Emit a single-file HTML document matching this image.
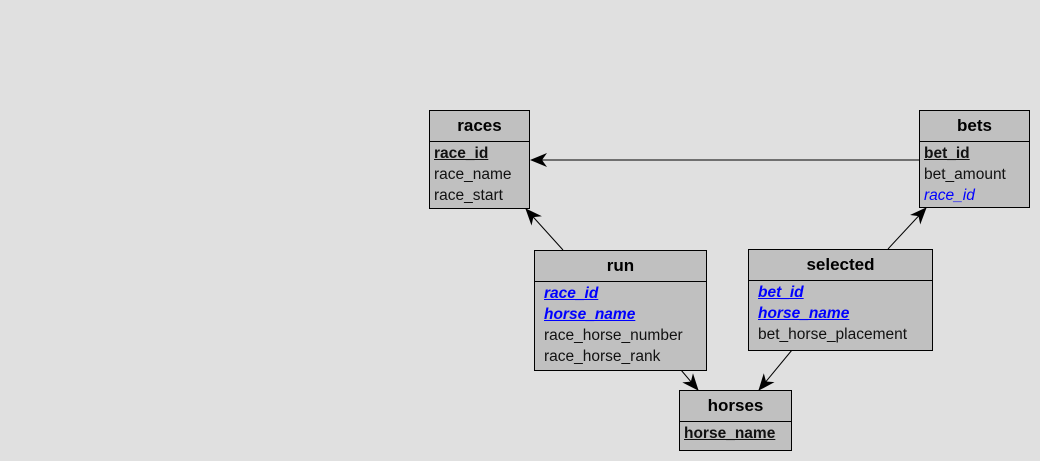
<!DOCTYPE html>
<html><head><style>
body{margin:0;width:1040px;height:461px;background:#e0e0e0;position:relative;overflow:hidden;font-family:"Liberation Sans",sans-serif;}
.t{position:absolute;background:#c0c0c0;border:1px solid #000;box-sizing:border-box;}
.h{height:30px;border-bottom:1px solid #000;text-align:center;font-weight:bold;font-size:17px;line-height:30px;color:#000;}
.r{font-size:15.5px;line-height:21px;padding-left:4px;color:#111;white-space:nowrap;}
.pk{font-weight:bold;text-decoration:underline;}
.fk{color:#0000ff;font-style:italic;}
svg{position:absolute;left:0;top:0;}
</style></head><body>
<svg width="1040" height="461">
<defs><marker id="a" markerWidth="17" markerHeight="14" refX="16" refY="7" orient="auto" markerUnits="userSpaceOnUse"><path d="M0,0 L17,7 L0,14 L5,7 z" fill="#000"/></marker></defs>
<g stroke="#000" stroke-width="1" fill="none">
<line x1="920" y1="160" x2="531" y2="160" marker-end="url(#a)"/>
<line x1="563" y1="250" x2="526" y2="209" marker-end="url(#a)"/>
<line x1="888" y1="249" x2="926" y2="208" marker-end="url(#a)"/>
<line x1="681" y1="370" x2="698" y2="390" marker-end="url(#a)"/>
<line x1="792" y1="350" x2="759" y2="390" marker-end="url(#a)"/>
</g></svg>
<div class="t" style="left:429px;top:110px;width:101px;height:99px">
<div class="h">races</div>
<div style="padding-top:1px"><div class="r pk">race_id</div><div class="r">race_name</div><div class="r">race_start</div></div></div>
<div class="t" style="left:919px;top:110px;width:111px;height:98px">
<div class="h">bets</div>
<div style="padding-top:1px"><div class="r pk">bet_id</div><div class="r">bet_amount</div><div class="r fk">race_id</div></div></div>
<div class="t" style="left:534px;top:250px;width:173px;height:121px">
<div class="h">run</div>
<div style="padding-top:1px;padding-left:5px"><div class="r pk fk">race_id</div><div class="r pk fk">horse_name</div><div class="r">race_horse_number</div><div class="r">race_horse_rank</div></div></div>
<div class="t" style="left:748px;top:249px;width:185px;height:102px">
<div class="h">selected</div>
<div style="padding-top:1px;padding-left:5px"><div class="r pk fk">bet_id</div><div class="r pk fk">horse_name</div><div class="r">bet_horse_placement</div></div></div>
<div class="t" style="left:679px;top:390px;width:113px;height:61px">
<div class="h">horses</div>
<div style="padding-top:1px"><div class="r pk">horse_name</div></div></div>
</body></html>
